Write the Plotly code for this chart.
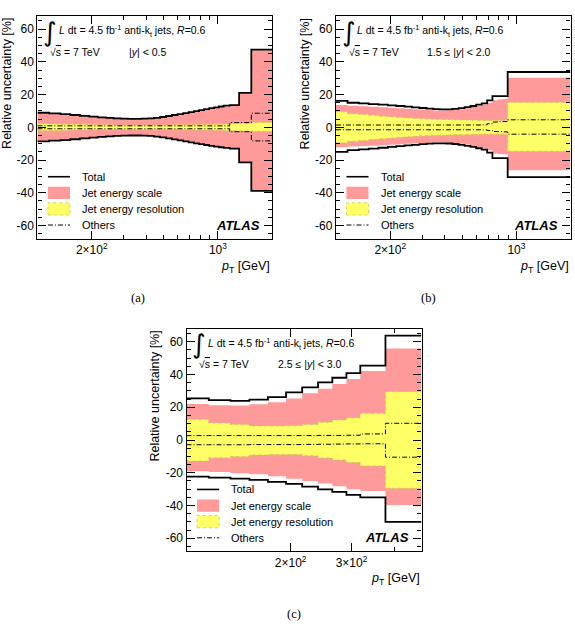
import plotly.graph_objects as go
import math

# ---------------- data ----------------
edges_a = [100, 116, 134, 152, 172, 194, 216, 240, 264, 290, 318, 346, 376, 408, 442, 478,
           516, 556, 598, 642, 688, 736, 786, 838, 894, 952, 1012, 1076, 1162, 1310, 1530, 1992]
tot_up_a = [8.9, 8.5, 8.0, 7.5, 7.0, 6.5, 6.1, 5.8, 5.5, 5.3, 5.2, 5.2, 5.3, 5.5, 5.8, 6.3,
            6.9, 7.5, 8.1, 8.7, 9.3, 9.9, 10.5, 11.1, 11.7, 12.2, 12.7, 13.2, 13.6, 21.0, 47.5]
tot_dn_a = [-8.6, -8.2, -7.8, -7.3, -6.8, -6.3, -5.9, -5.6, -5.3, -5.1, -5.0, -5.0, -5.1, -5.3, -5.7, -6.2,
            -6.8, -7.4, -8.0, -8.6, -9.2, -9.8, -10.3, -10.8, -11.3, -11.8, -12.2, -12.6, -13.0, -21.4, -38.9]
jes_up_a = [8.6, 8.2, 7.7, 7.2, 6.7, 6.2, 5.8, 5.5, 5.2, 5.0, 4.9, 4.9, 5.0, 5.2, 5.5, 6.0,
            6.6, 7.2, 7.8, 8.4, 9.0, 9.6, 10.2, 10.8, 11.4, 11.9, 12.4, 12.9, 13.2, 20.6, 47.0]
jes_dn_a = [-8.3, -7.9, -7.5, -7.0, -6.5, -6.0, -5.6, -5.3, -5.0, -4.8, -4.7, -4.7, -4.8, -5.0, -5.4, -5.9,
            -6.5, -7.1, -7.7, -8.3, -8.9, -9.5, -10.0, -10.5, -11.0, -11.5, -11.9, -12.3, -12.6, -21.0, -38.5]
jer_up_a = [2.2, 2.0, 1.9, 1.8, 1.7, 1.6, 1.5, 1.5, 1.4, 1.4, 1.4, 1.4, 1.4, 1.4, 1.4, 1.4,
            1.4, 1.5, 1.5, 1.5, 1.6, 1.6, 1.7, 1.7, 1.8, 1.8, 1.9, 2.0, 2.2, 2.3, 3.0]
jer_dn_a = [-2.0, -1.9, -1.8, -1.7, -1.6, -1.5, -1.5, -1.4, -1.4, -1.4, -1.4, -1.4, -1.4, -1.4, -1.4, -1.4,
            -1.4, -1.4, -1.5, -1.5, -1.5, -1.6, -1.6, -1.7, -1.7, -1.8, -1.8, -1.9, -2.1, -2.2, -2.4]
oth_up_a = [0.9, 0.9, 0.9, 0.9, 0.9, 0.9, 0.9, 0.9, 0.9, 0.9, 0.9, 0.9, 0.9, 0.9, 0.9, 0.9,
            0.9, 0.9, 0.9, 0.9, 0.9, 0.9, 0.9, 0.9, 0.9, 0.9, 0.9, 0.9, 2.9, 2.9, 8.6]
oth_dn_a = [-0.9, -0.9, -0.9, -0.9, -0.9, -0.9, -0.9, -0.9, -0.9, -0.9, -0.9, -0.9, -0.9, -0.9, -0.9, -0.9,
            -0.9, -0.9, -0.9, -0.9, -0.9, -0.9, -0.9, -0.9, -0.9, -0.9, -0.9, -0.9, -2.7, -2.7, -8.3]

edges_b = [100, 116, 134, 152, 172, 194, 216, 240, 264, 290, 318, 346, 376, 408, 442, 478,
           516, 556, 598, 642, 688, 736, 786, 838, 894, 1992]
tot_up_b = [16.2, 15.0, 14.6, 14.2, 13.8, 13.4, 13.0, 12.6, 12.2, 11.8, 11.4, 11.1, 11.0, 11.0, 11.3, 11.7,
            12.3, 13.0, 13.8, 14.6, 16.4, 19.1, 19.1, 19.1, 33.8]
tot_dn_b = [-15.0, -14.0, -13.5, -13.0, -12.5, -12.0, -11.5, -11.1, -10.7, -10.3, -10.0, -9.8, -9.8, -9.9, -10.2, -10.7,
            -11.3, -12.0, -12.8, -13.6, -15.5, -18.8, -18.8, -18.8, -30.4]
jes_up_b = [13.6, 13.2, 12.9, 12.6, 12.3, 12.0, 11.7, 11.4, 11.1, 10.8, 10.5, 10.3, 10.3, 10.4, 10.7, 11.1,
            11.7, 12.4, 13.2, 14.0, 15.0, 16.5, 17.0, 17.3, 30.3]
jes_dn_b = [-12.2, -11.8, -11.5, -11.2, -10.9, -10.6, -10.3, -10.0, -9.8, -9.6, -9.4, -9.3, -9.3, -9.4, -9.7, -10.1,
            -10.7, -11.4, -12.2, -13.0, -14.0, -16.0, -16.3, -16.5, -26.3]
jer_up_b = [9.5, 8.3, 7.8, 7.3, 6.8, 6.4, 6.0, 5.7, 5.4, 5.2, 5.0, 4.9, 4.8, 4.7, 4.6, 4.5,
            4.4, 4.3, 4.3, 4.2, 4.2, 4.2, 4.2, 4.2, 15.2]
jer_dn_b = [-9.5, -8.5, -8.0, -7.5, -7.0, -6.5, -6.1, -5.8, -5.5, -5.2, -5.0, -4.9, -4.8, -4.7, -4.6, -4.5,
            -4.4, -4.3, -4.3, -4.2, -4.2, -4.2, -4.2, -4.2, -14.6]
oth_up_b = [1.4, 1.4, 1.4, 1.4, 1.4, 1.4, 1.4, 1.4, 1.4, 1.4, 1.4, 1.4, 1.4, 1.4, 1.4, 1.4,
            1.4, 1.4, 1.4, 1.5, 2.2, 3.2, 3.4, 3.5, 4.6]
oth_dn_b = [-1.5, -1.5, -1.5, -1.5, -1.5, -1.5, -1.5, -1.5, -1.5, -1.5, -1.5, -1.5, -1.5, -1.5, -1.5, -1.5,
            -1.5, -1.5, -1.5, -1.6, -2.0, -2.6, -2.7, -2.8, -4.2]

edges_c = [100, 116, 134, 152, 172, 194, 216, 240, 264, 290, 318, 346, 376, 478]
tot_up_c = [25.4, 24.4, 23.9, 24.6, 26.2, 29.1, 32.1, 35.2, 38.0, 40.8, 45.4, 45.4, 63.7]
tot_dn_c = [-22.4, -23.0, -23.6, -24.4, -25.6, -26.8, -28.4, -30.1, -31.7, -33.5, -35.0, -35.0, -50.0]
jes_up_c = [22.0, 21.2, 21.0, 21.8, 23.0, 25.4, 28.5, 31.3, 34.2, 37.2, 42.1, 42.1, 55.9]
jes_dn_c = [-19.0, -19.6, -20.3, -20.9, -22.2, -23.6, -25.1, -26.6, -28.2, -30.0, -31.1, -31.1, -39.7]
jer_up_c = [12.6, 10.4, 9.4, 8.6, 8.5, 8.7, 9.5, 10.8, 12.2, 13.6, 16.3, 16.3, 29.5]
jer_dn_c = [-12.8, -10.9, -10.0, -9.1, -8.8, -8.8, -9.6, -11.0, -12.2, -13.8, -15.8, -15.8, -29.5]
oth_up_c = [2.7, 2.7, 2.7, 2.7, 2.7, 2.7, 2.7, 2.8, 2.8, 2.9, 3.7, 3.7, 10.2]
oth_dn_c = [-2.9, -2.9, -2.9, -2.8, -2.8, -2.8, -2.7, -2.6, -2.5, -2.4, -2.3, -2.3, -10.5]

rap_labels = ["|<i>y</i>| &lt; 0.5", "1.5 ≤ |<i>y</i>| &lt; 2.0", "2.5 ≤ |<i>y</i>| &lt; 3.0"]
captions = ["(a)", "(b)", "(c)"]
legend_labels = ["Total", "Jet energy scale", "Jet energy resolution", "Others"]
y_tickvals = [-60, -40, -20, 0, 20, 40, 60]
y_ticktext = ["-60", "-40", "-20", "0", "20", "40", "60"]
x_tickvals_ab = [200, 1000]
x_ticktext_ab = ["2×10<sup>2</sup>", "10<sup>3</sup>"]
x_minor_ab = [300, 400, 500, 600, 700, 800, 900]
x_tickvals_c = [200, 300]
x_ticktext_c = ["2×10<sup>2</sup>", "3×10<sup>2</sup>"]
x_minor_c = [400]

# ---------------- style ----------------
W, H = 575, 626
SANS = "Liberation Sans, Arial, Helvetica, sans-serif"
SERIF = "Liberation Serif, DejaVu Serif, serif"
RED = "#ff9a9a"
YEL = "#ffff66"
YEL_EDGE = "#c8c850"
DASHDOT = "5px,2px,1px,2px"

# frame positions in pixels (left, right, top, bottom)
frames = [(37.4, 272.0, 16.0, 238.6), (335.9, 570.5, 16.0, 238.6), (186.5, 421.5, 328.6, 551.4)]
caption_pos = [(138, 298), (428, 298), (294, 614)]

panels = [
    (edges_a, tot_up_a, tot_dn_a, jes_up_a, jes_dn_a, jer_up_a, jer_dn_a, oth_up_a, oth_dn_a,
     x_tickvals_ab, x_ticktext_ab, x_minor_ab),
    (edges_b, tot_up_b, tot_dn_b, jes_up_b, jes_dn_b, jer_up_b, jer_dn_b, oth_up_b, oth_dn_b,
     x_tickvals_ab, x_ticktext_ab, x_minor_ab),
    (edges_c, tot_up_c, tot_dn_c, jes_up_c, jes_dn_c, jer_up_c, jer_dn_c, oth_up_c, oth_dn_c,
     x_tickvals_c, x_ticktext_c, x_minor_c),
]


def stepy(v):
    return list(v) + [v[-1]]


fig = go.Figure()
annotations = []
shapes = []
layout_axes = {}

for i, (edges, tu, td, ju, jd, eu, ed, ou, od, xtv, xtt, xmin) in enumerate(panels):
    n = "" if i == 0 else str(i + 1)
    xr, yr = "x" + n, "y" + n
    common = dict(xaxis=xr, yaxis=yr, mode="lines", showlegend=False, hoverinfo="skip")
    # JES band
    fig.add_trace(go.Scatter(x=edges, y=stepy(ju), line=dict(shape="hv", width=0, color=RED), **common))
    fig.add_trace(go.Scatter(x=edges, y=stepy(jd), line=dict(shape="hv", width=0, color=RED),
                             fill="tonexty", fillcolor=RED, **common))
    # JER band
    fig.add_trace(go.Scatter(x=edges, y=stepy(eu), line=dict(shape="hv", width=0.8, color=YEL_EDGE, dash="dot"), **common))
    fig.add_trace(go.Scatter(x=edges, y=stepy(ed), line=dict(shape="hv", width=0.8, color=YEL_EDGE, dash="dot"),
                             fill="tonexty", fillcolor=YEL, **common))
    # Others
    for v in (ou, od):
        fig.add_trace(go.Scatter(x=edges, y=stepy(v), line=dict(shape="hv", width=1, color="black", dash=DASHDOT), **common))
    # Total
    for v in (tu, td):
        fig.add_trace(go.Scatter(x=edges, y=stepy(v), line=dict(shape="hv", width=1.8, color="black"), **common))

    l, r, t, b = frames[i]
    layout_axes["xaxis" + n] = dict(
        type="log", range=[math.log10(edges[0]), math.log10(edges[-1])],
        domain=[l / W, r / W], anchor=yr,
        showline=True, linecolor="black", linewidth=1.2, mirror="ticks",
        ticks="inside", ticklen=8, tickwidth=1, tickcolor="black",
        tickmode="array", tickvals=xtv, ticktext=xtt,
        tickfont=dict(family=SANS, size=12, color="black"),
        minor=dict(tickmode="array", tickvals=xmin, ticks="inside", ticklen=4, tickcolor="black", tickwidth=1),
        showgrid=False, zeroline=False, fixedrange=True,
    )
    layout_axes["yaxis" + n] = dict(
        range=[-68, 68], domain=[1 - b / H, 1 - t / H], anchor=xr,
        showline=True, linecolor="black", linewidth=1.2, mirror="ticks",
        ticks="inside", ticklen=8, tickwidth=1, tickcolor="black",
        tickmode="array", tickvals=y_tickvals, ticktext=y_ticktext,
        tickfont=dict(family=SANS, size=12, color="black"),
        minor=dict(tick0=0, dtick=5, ticks="inside", ticklen=4, tickcolor="black", tickwidth=1),
        showgrid=False, zeroline=False, fixedrange=True,
    )

    xd, yd = xr + " domain", yr + " domain"

    def ann(text, x, y, xanchor="left", yanchor="middle", size=10.5, family=SANS, **kw):
        annotations.append(dict(text=text, x=x, y=y, xref=xd, yref=yd, xanchor=xanchor, yanchor=yanchor,
                                showarrow=False, font=dict(family=family, size=size, color="black"), **kw))

    # header texts
    ann("∫", 0.054, 0.930, xanchor="center", size=26, family="DejaVu Sans")
    ann("<i>L</i> dt = 4.5 fb<sup>-1</sup> anti-k<sub>t</sub> jets, <i>R</i>=0.6", 0.083, 0.932)
    ann("√<span style='text-decoration:overline'>s</span> = 7 TeV", 0.046, 0.840)
    ann(rap_labels[i], 0.380, 0.840)
    # legend
    ann(legend_labels[0], 0.182, 0.278, size=11)
    ann(legend_labels[1], 0.182, 0.2055, size=11)
    ann(legend_labels[2], 0.182, 0.1335, size=11)
    ann(legend_labels[3], 0.182, 0.061, size=11)
    ann("<b><i>ATLAS</i></b>", 0.957, 0.061, xanchor="right", size=13)
    # axis titles
    ann("<i>p</i><sub>T</sub> [GeV]", 1.0, 0.0, xanchor="right", yanchor="middle", size=12.5, yshift=-28)
    ann("Relative uncertainty [%]", 0.0, 1.0, xanchor="center", yanchor="top", size=12.5,
        textangle=-90, xshift=-31)

    shapes.append(dict(type="line", xref=xd, yref=yd, x0=0.045, x1=0.139, y0=0.278, y1=0.278,
                       line=dict(color="black", width=1.6)))
    shapes.append(dict(type="rect", xref=xd, yref=yd, x0=0.045, x1=0.139, y0=0.178, y1=0.233,
                       fillcolor=RED, line=dict(width=0)))
    shapes.append(dict(type="rect", xref=xd, yref=yd, x0=0.045, x1=0.139, y0=0.106, y1=0.161,
                       fillcolor=YEL, line=dict(color=YEL_EDGE, width=0.8, dash="dot")))
    shapes.append(dict(type="line", xref=xd, yref=yd, x0=0.045, x1=0.139, y0=0.061, y1=0.061,
                       line=dict(color="black", width=1, dash=DASHDOT)))

    cx, cy = caption_pos[i]
    annotations.append(dict(text=captions[i], x=cx / W, y=1 - cy / H, xref="paper", yref="paper",
                            xanchor="center", yanchor="middle", showarrow=False,
                            font=dict(family=SERIF, size=12.5, color="black")))

fig.update_layout(
    width=W, height=H, margin=dict(l=0, r=0, t=0, b=0),
    paper_bgcolor="white", plot_bgcolor="white",
    annotations=annotations, shapes=shapes, **layout_axes,
)

fig.write_html("out.html")
